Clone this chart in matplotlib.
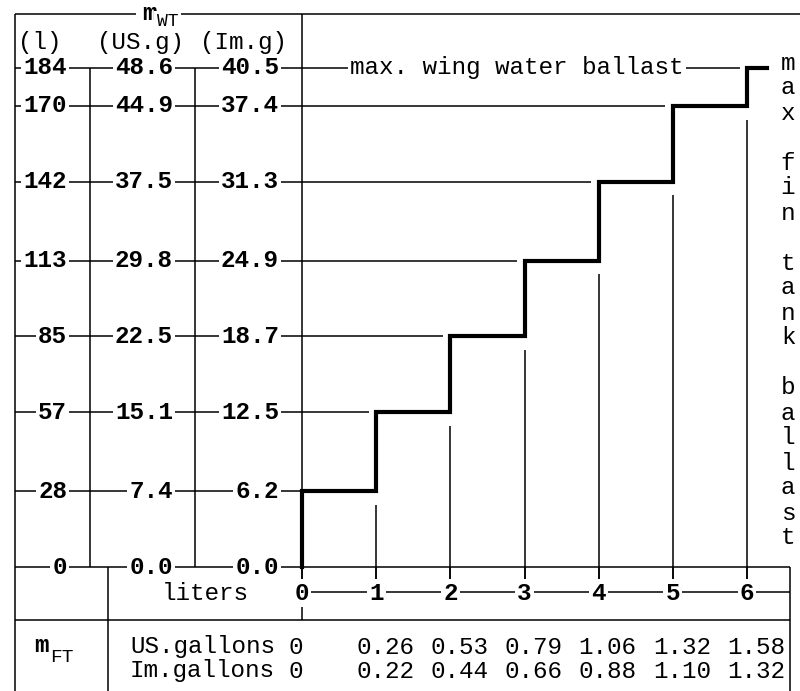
# Ballast table: max. wing water ballast vs. fin tank ballast
import matplotlib
matplotlib.use('Agg')
import matplotlib.pyplot as plt

# ---- data ----
fin_liters = [0, 1, 2, 3, 4, 5, 6]
wing_liters = [0, 28, 57, 85, 113, 142, 170, 184]
wing_us_gal = [0.0, 7.4, 15.1, 22.5, 29.8, 37.5, 44.9, 48.6]
wing_im_gal = [0.0, 6.2, 12.5, 18.7, 24.9, 31.3, 37.4, 40.5]
fin_us_gal = [0, 0.26, 0.53, 0.79, 1.06, 1.32, 1.58]
fin_im_gal = [0, 0.22, 0.44, 0.66, 0.88, 1.10, 1.32]

# ---- layout (pixel positions of the scanned table) ----
W, H = 800, 691
X0_PX, SX = 302, 74.17      # liters 0 on x, px per liter (fin tank)
Y0_PX, SY = 567, 2.712      # liters 0 on y, px per liter (wing)


def fx(p):
    return (p - X0_PX) / SX


def fy(p):
    return (Y0_PX - p) / SY


FONT = 'Liberation Mono'
FS = 17.5
LW = 1.1
white = dict(facecolor='white', edgecolor='none', pad=1.5)

fig = plt.figure(figsize=(W / 100, H / 100), dpi=100)
ax = fig.add_axes([0, 0, 1, 1])
ax.set_xlim(fx(0), fx(W))
ax.set_ylim(fy(H), fy(0))
ax.axis('off')


def line(xs, ys, lw=LW, z=1):
    ax.plot(xs, ys, color='black', lw=lw, solid_capstyle='butt', zorder=z)


def txt(x, y, s, ha='center', va='center', weight='normal', size=FS, box=True):
    ax.text(x, y, s, ha=ha, va=va, fontsize=size, fontweight=weight,
            family=FONT, bbox=white if box else None, zorder=5)


# frame
line([fx(15), fx(W)], [fy(14), fy(14)])
line([fx(15), fx(15)], [fy(14), fy(H)])
line([fx(15), fx(790)], [fy(620), fy(620)])
line([fx(790), fx(790)], [0, fy(H)])
line([fx(108), fx(108)], [0, fy(H)])

# wing ballast columns
for xp in (90, 195):
    line([fx(xp), fx(xp)], [0, wing_liters[-1]])
line([0, 0], [fy(14), fy(580)])
line([0, 0], [fy(607), fy(620)])

# row lines
line([fx(15), fx(790)], [0, 0])
for i in range(1, len(wing_liters)):
    end = fin_liters[min(i - 1, 6)]
    if i == len(wing_liters) - 1:
        end = fin_liters[-1]
    gap = 0 if i == 1 else 0.1
    line([fx(15), end - gap], [wing_liters[i], wing_liters[i]])

# thin verticals below the steps
for k in fin_liters[1:]:
    line([k, k], [fy(580), wing_liters[k] - 5])

# step curve
cap = 0.27
sx = [fin_liters[0]] + fin_liters + [fin_liters[-1] + cap]
sy = wing_liters + [wing_liters[-1]]
ax.plot(sx, sy, drawstyle='steps-post', color='black', lw=3,
        solid_joinstyle='miter', zorder=3)

# row labels
for i, v in enumerate(wing_liters):
    y = v
    txt(fx(67), y, f'{v}', ha='right', weight='bold')
    txt(fx(173), y, f'{wing_us_gal[i]:.1f}', ha='right', weight='bold')
    txt(fx(279), y, f'{wing_im_gal[i]:.1f}', ha='right', weight='bold')

txt(fx(350), wing_liters[-1], 'max. wing water ballast', ha='left')

# headers
txt(fx(40), fy(42), '(l)', box=False)
txt(fx(140), fy(42), '(US.g)', box=False)
txt(fx(243), fy(42), '(Im.g)', box=False)
ax.text(fx(149), fy(13), 'm', ha='center', va='center', fontsize=FS,
        fontweight='bold', family=FONT, zorder=5,
        bbox=dict(facecolor='white', edgecolor='none', pad=4))
ax.text(fx(157), fy(22), 'WT', ha='left', va='center', fontsize=13,
        family=FONT, zorder=6,
        bbox=dict(facecolor='white', edgecolor='none', pad=2))

# fin tank axis
line([0, fx(790)], [fy(592), fy(592)])
for k in fin_liters:
    line([k, k], [0, fy(580)])
    txt(k, fy(593), str(k), weight='bold')
txt(fx(205), fy(594), 'liters', box=False)

# gallons rows
txt(fx(41), fy(645), 'm', weight='bold', box=False)
txt(fx(50), fy(657), 'FT', ha='left', size=14, box=False)
txt(fx(130), fy(647), 'US.gallons', ha='left', box=False)
txt(fx(130), fy(671), 'Im.gallons', ha='left', box=False)
for k in fin_liters:
    off = -0.08 if k == 0 else 0.12
    us = '0' if fin_us_gal[k] == 0 else f'{fin_us_gal[k]:.2f}'
    im = '0' if fin_im_gal[k] == 0 else f'{fin_im_gal[k]:.2f}'
    txt(k + off, fy(647), us, box=False)
    txt(k + off, fy(671), im, box=False)

# vertical caption on the right
for i, ch in enumerate('max fin tank ballast'):
    if ch != ' ':
        txt(fx(788), fy(63 + i * 25), ch, box=False)

fig.savefig('out.png', dpi=100, facecolor='white')
